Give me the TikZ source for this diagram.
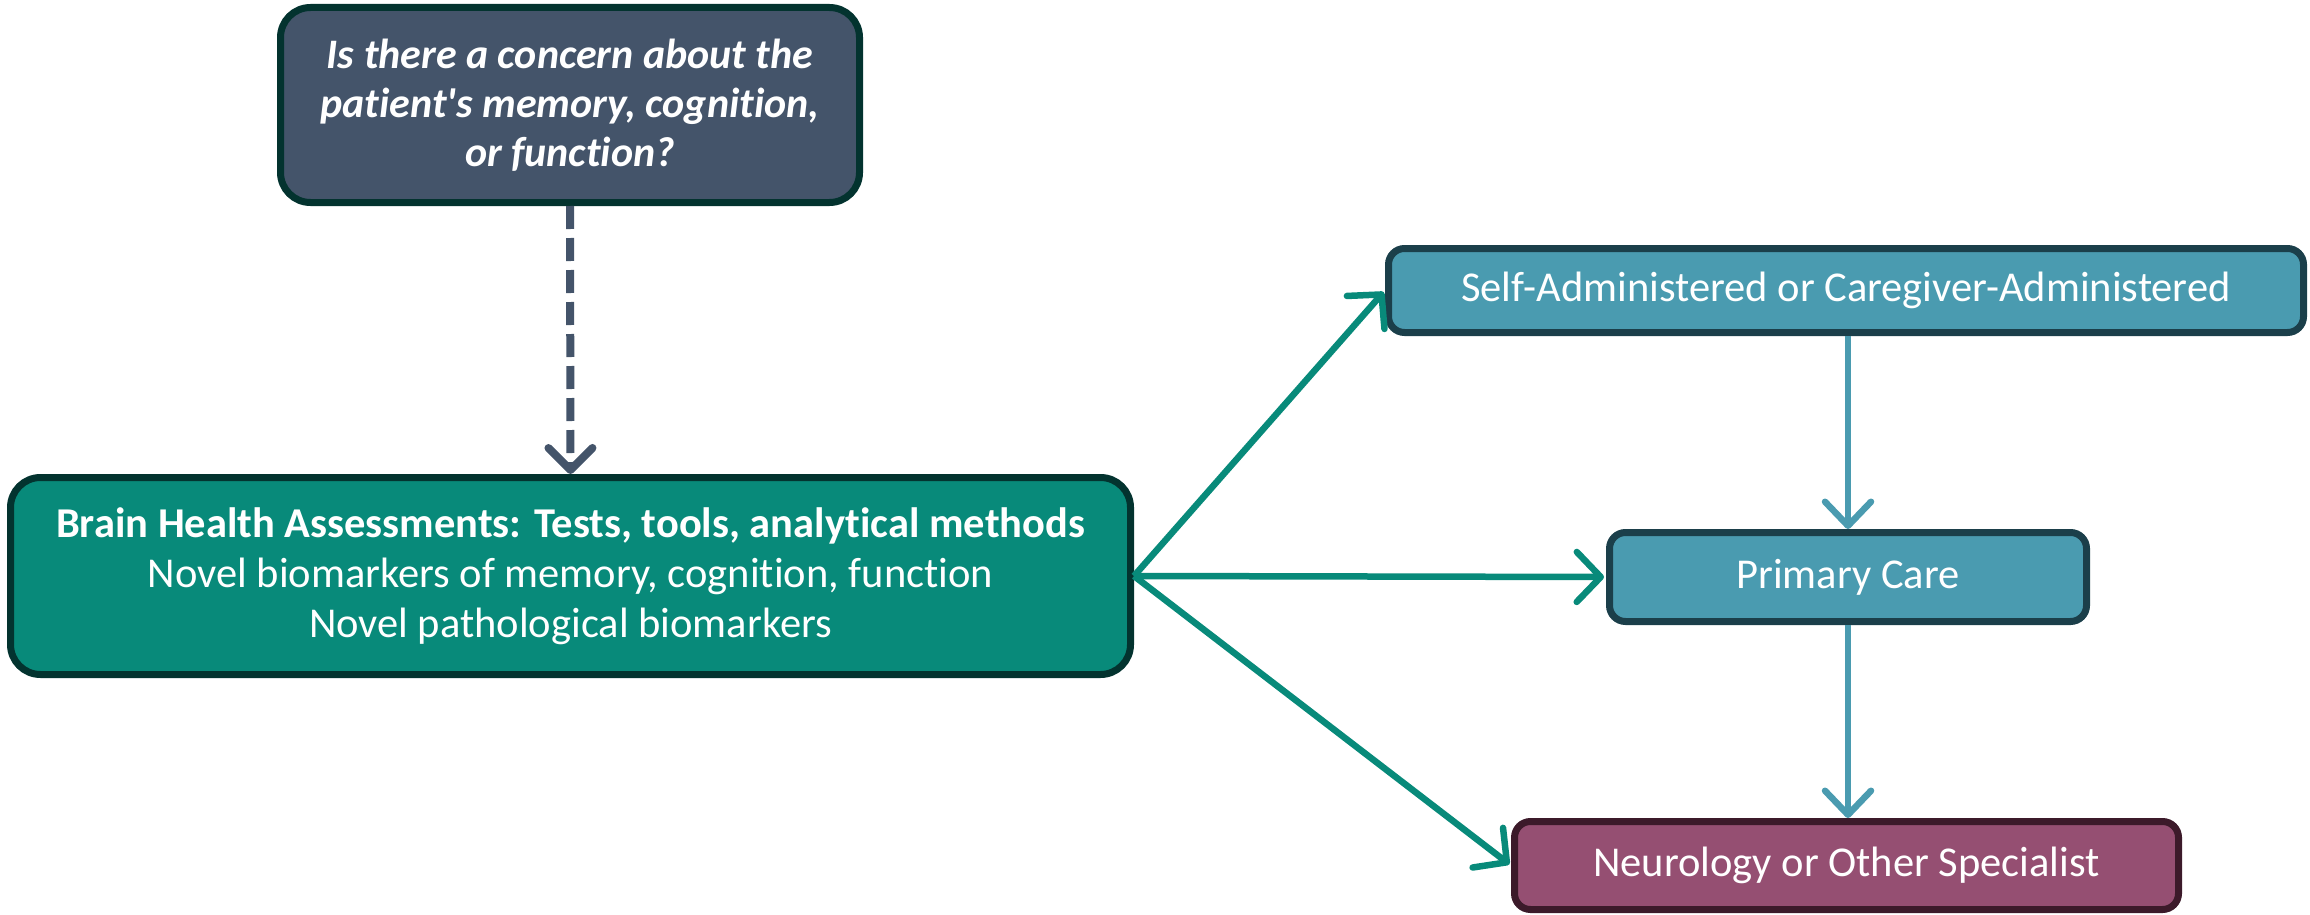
\documentclass[tikz,border=0pt]{standalone}
\usepackage{fontspec}
\setmainfont{Carlito}[RawFeature=-liga]
\usetikzlibrary{arrows.meta}
\definecolor{slate}{HTML}{44546A}
\definecolor{darkteal}{HTML}{03332F}
\definecolor{teal}{HTML}{088A7A}
\definecolor{lblue}{HTML}{4A9BB0}
\definecolor{lblueb}{HTML}{1B3F4A}
\definecolor{plum}{HTML}{954F72}
\definecolor{plumb}{HTML}{3C1A2A}
\tikzset{
  box/.style={rectangle, line width=7pt, text=white, align=center, inner sep=0pt,
    font=\fontsize{42.5}{50}\selectfont},
  conn/.style={line width=6.5pt, draw=teal, -{Straight Barb[length=24pt,width=50pt,line cap=round,line join=round]}, shorten >=2pt},
  vconn/.style={line width=6.5pt, draw=lblue, -{Straight Barb[length=24pt,width=46pt,line cap=round,line join=round]}},
  dconn/.style={line width=8pt, draw=slate, dash pattern=on 23pt off 9pt, -{Straight Barb[length=22pt,width=44pt,line cap=round,line join=round]}},
}
\begin{document}
\begin{tikzpicture}[x=1pt,y=-1pt]
\useasboundingbox (0,0) rectangle (2310,915);
\node[box, fill=slate, draw=darkteal, rounded corners=30pt, minimum width=579pt, minimum height=195pt,
  font=\fontsize{42}{49}\selectfont\bfseries\itshape] (q) at (570,105)
  {Is there a concern about the\\patient\XeTeXglyph\XeTeXcharglyph"27 s memory, cognition,\\or function?};
\node[box, fill=teal, draw=darkteal, rounded corners=30pt, minimum width=1120pt, minimum height=197pt] (bha) at (570.5,576)
  {\textbf{Brain Health Assessments: Tests, tools, analytical methods}\\Novel biomarkers of memory, cognition, function\\Novel pathological biomarkers};
\node[box, fill=lblue, draw=lblueb, rounded corners=16pt, minimum width=915pt, minimum height=84pt] (self) at (1846,290.5)
  {Self-Administered or Caregiver-Administered};
\node[box, fill=lblue, draw=lblueb, rounded corners=16pt, minimum width=477pt, minimum height=89pt] (pc) at (1848,577)
  {Primary Care};
\node[box, fill=plum, draw=plumb, rounded corners=16pt, minimum width=664pt, minimum height=88pt] (neuro) at (1846.5,865.5)
  {Neurology or Other Specialist};
\draw[dconn] (q.south) -- (bha.north);
\draw[conn] (bha.east) -- (self.west);
\draw[conn] (bha.east) -- (pc.west);
\draw[conn] (bha.east) -- (neuro.west);
\draw[vconn] (self.south -| pc.north) -- (pc.north);
\draw[vconn] (pc.south) -- (pc.south |- neuro.north);
\end{tikzpicture}
\end{document}
